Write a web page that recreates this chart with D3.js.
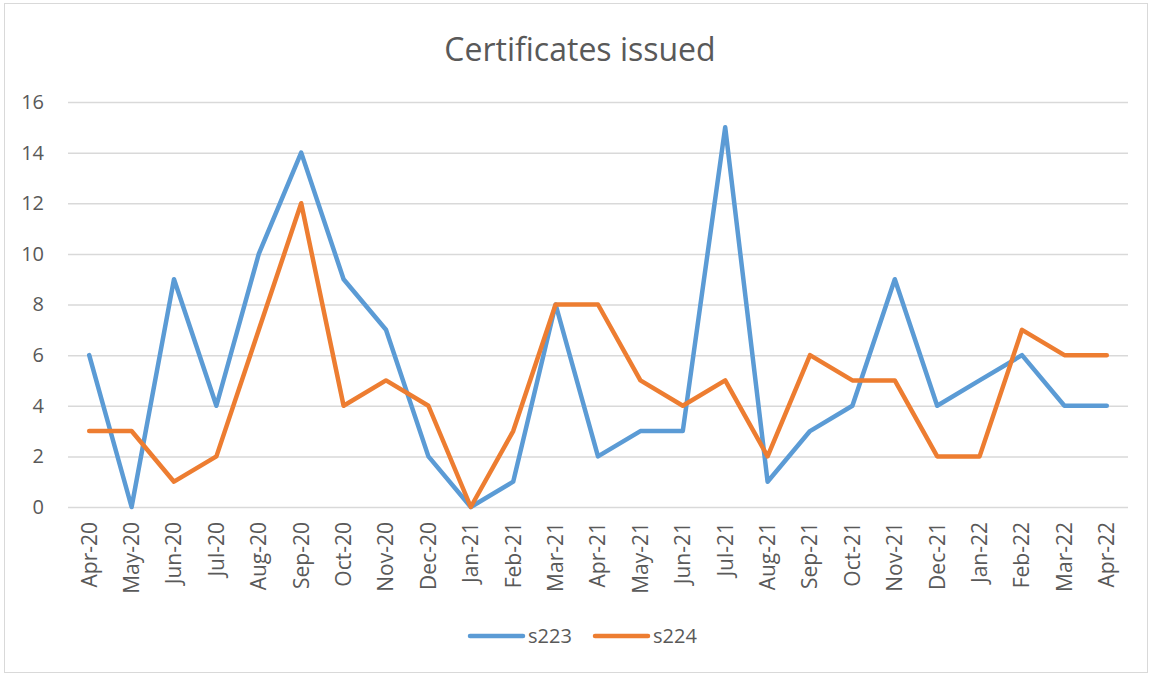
<!DOCTYPE html>
<html>
<head>
<meta charset="utf-8">
<script src="https://cdn.jsdelivr.net/npm/d3@7"></script>
<style>
  body { margin: 0; background: #fff; }
  text { font-family: "Open Sans", "Liberation Sans", sans-serif; fill: #595959; }
</style>
</head>
<body>
<div id="chart"></div>
<script>
// monthly certificates, Apr-20 .. Apr-22
const months = ["Apr-20","May-20","Jun-20","Jul-20","Aug-20","Sep-20","Oct-20","Nov-20","Dec-20",
  "Jan-21","Feb-21","Mar-21","Apr-21","May-21","Jun-21","Jul-21","Aug-21","Sep-21","Oct-21","Nov-21","Dec-21",
  "Jan-22","Feb-22","Mar-22","Apr-22"];
const s223 = [6,0,9,4,10,14,9,7,2,0,1,8,2,3,3,15,1,3,4,9,4,5,6,4,4];
const s224 = [3,3,1,2,7,12,4,5,4,0,3,8,8,5,4,5,2,6,5,5,2,2,7,6,6];
const yTicks = [0,2,4,6,8,10,12,14,16];

const series = [
  { name: "s223", values: s223, color: "#5B9BD5" },
  { name: "s224", values: s224, color: "#ED7D31" }
];

const W = 1151, H = 675;
const plot = { left: 68, right: 1128, top: 102, bottom: 507 };

let svg = d3.select("#chart").append("svg")
  .attr("width", W).attr("height", H);

// outer chart border
svg.append("rect")
  .attr("x", 4.5).attr("y", 3.5)
  .attr("width", 1143).attr("height", 669)
  .attr("fill", "#fff").attr("stroke", "#D9D9D9");

svg.append("text")
  .attr("x", 580).attr("y", 61)
  .attr("text-anchor", "middle")
  .style("font-size", "32px")
  .text("Certificates issued");

let x = d3.scaleBand().domain(months).range([plot.left, plot.right]);
let y = d3.scaleLinear().domain([0, 16]).range([plot.bottom, plot.top]);

// gridlines + y labels
let yAxis = d3.axisLeft(y).tickValues(yTicks).tickSize(-(plot.right - plot.left)).tickPadding(24);
let gy = svg.append("g")
  .attr("transform", "translate(" + plot.left + ",0)")
  .call(yAxis);
gy.select(".domain").remove();
gy.selectAll("line").attr("stroke", "#D9D9D9").attr("stroke-width", 1.5);
gy.selectAll("text").style("font-size", "20px").attr("fill", "#595959");

// x labels, rotated
let xAxis = d3.axisBottom(x).tickSize(0).tickPadding(0);
let gx = svg.append("g")
  .attr("transform", "translate(0," + plot.bottom + ")")
  .call(xAxis);
gx.select(".domain").remove();
gx.selectAll("text")
  .style("font-size", "21px")
  .attr("fill", "#595959")
  .attr("transform", "rotate(-90)")
  .attr("text-anchor", "end")
  .attr("x", -15).attr("y", 0).attr("dy", "0.35em");

let line = d3.line()
  .x(function(d, i) { return x(months[i]) + x.bandwidth() / 2; })
  .y(function(d) { return y(d); });

series.forEach(function(s) {
  svg.append("path")
    .datum(s.values)
    .attr("fill", "none")
    .attr("stroke", s.color)
    .attr("stroke-width", 4.5)
    .attr("stroke-linejoin", "round")
    .attr("stroke-linecap", "round")
    .attr("d", line);
});

// legend
let legend = svg.append("g").attr("transform", "translate(470,636)");
series.forEach(function(s, i) {
  let g = legend.append("g").attr("transform", "translate(" + (i * 125) + ",0)");
  g.append("line")
    .attr("x1", 0).attr("x2", 53).attr("y1", 0).attr("y2", 0)
    .attr("stroke", s.color).attr("stroke-width", 4.5).attr("stroke-linecap", "round");
  g.append("text")
    .attr("x", 58).attr("y", 0).attr("dy", "0.35em")
    .style("font-size", "20px")
    .text(s.name);
});
</script>
</body>
</html>
